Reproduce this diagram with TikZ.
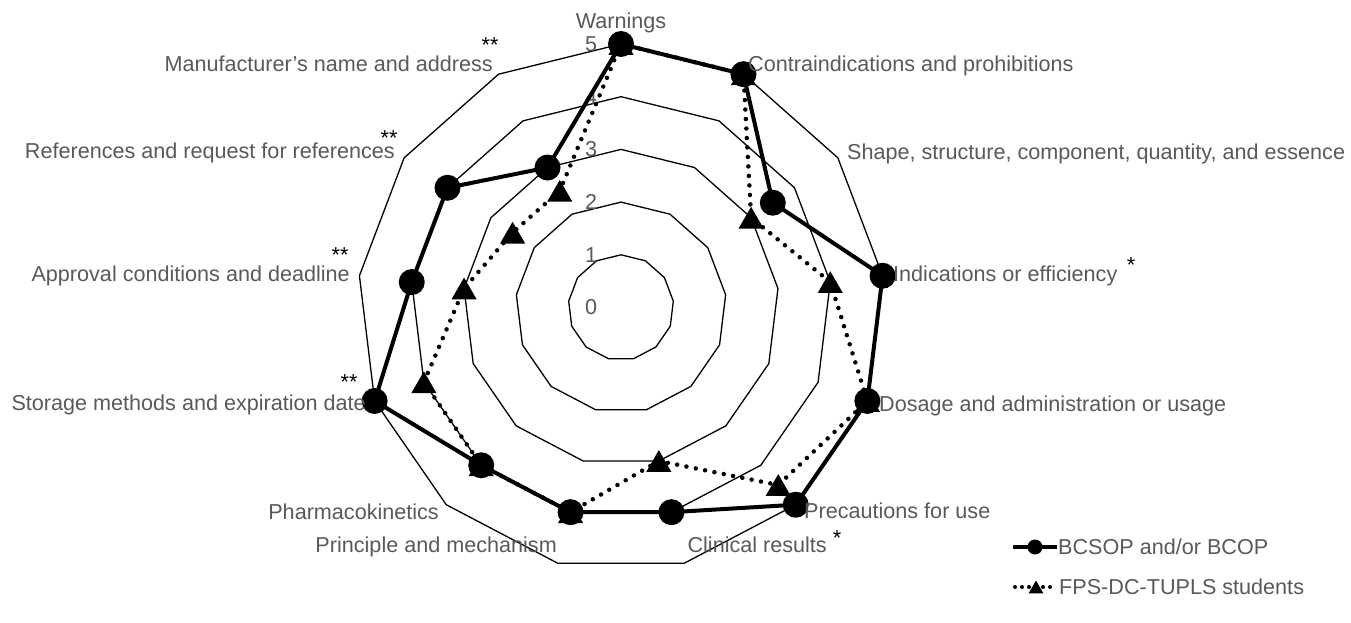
\documentclass[tikz,border=0pt]{standalone}
\usepackage{fontspec}
\setmainfont{Liberation Sans}
\usetikzlibrary{shapes.geometric}
\definecolor{labelgray}{RGB}{89,89,89}

\begin{document}
\begin{tikzpicture}[x=1pt,y=1pt,
  ring/.style={black,line width=1.3pt,line join=round},
  lbl/.style={text=labelgray,font=\fontsize{21.6}{24}\selectfont,inner sep=0pt},
  stars/.style={text=black,font=\fontsize{21.6}{24}\selectfont,inner sep=0pt,anchor=base},
  seriesA/.style={black,line width=4pt,line join=round},
  seriesB/.style={black,line width=4.5pt,line cap=round,dash pattern=on 0pt off 9.5pt},
  dotmark/.style={circle,fill=black,minimum size=26pt,inner sep=0pt},
  trimark/.style={regular polygon,regular polygon sides=3,fill=black,minimum size=29pt,inner sep=0pt,yshift=-3.6pt}]
\useasboundingbox (0,-623) rectangle (1351,0);

% rings 1..5
\begin{scope}[shift={(621,-307.5)}]
  \foreach \r in {1,...,5}
    \draw[ring] (90:\r*52.7) \foreach \k in {1,...,12} {-- ({90-\k*360/13}:\r*52.7)} -- cycle;
  \foreach \v [count=\k from 0] in {5,5,3.5,5,5,5,4,4,4,5,4,4,3}
    \coordinate (a\k) at ({90-\k*360/13}:\v*52.7);
  \foreach \v [count=\k from 0] in {5,5,3,4,5,4.5,3,4,4,4,3,2.5,2.5}
    \coordinate (b\k) at ({90-\k*360/13}:\v*52.7);
\end{scope}

% scale numbers
\foreach \n in {0,...,5}
  \node[lbl] (tick\n) at (591,{-307.5+\n*52.7}) {\n};

% FPS-DC-TUPLS students
\draw[seriesB] (b0) \foreach \k in {1,...,12} {-- (b\k)} -- cycle;
\foreach \k in {0,...,12}
  \node[trimark] (tb\k) at (b\k) {};

% BCSOP and/or BCOP
\draw[seriesA] (a0) \foreach \k in {1,...,12} {-- (a\k)} -- cycle;
\foreach \k in {0,...,12}
  \node[dotmark] (da\k) at (a\k) {};

% category labels
\node[lbl,anchor=base] (warn) at (621,-28.3) {Warnings};
\node[lbl,anchor=base west] (contra) at (748,-72) {Contraindications and prohibitions};
\node[lbl,anchor=base west] (shape) at (847,-159) {Shape, structure, component, quantity, and essence};
\node[lbl,anchor=base west] (indic) at (893,-281) {Indications or efficiency};
\node[lbl,anchor=base west] (dosage) at (879,-411) {Dosage and administration or usage};
\node[lbl,anchor=base west] (precau) at (804,-518) {Precautions for use};
\node[lbl,anchor=base east] (clinic) at (827,-552) {Clinical results};
\node[lbl,anchor=base east] (princ) at (557,-552) {Principle and mechanism};
\node[lbl,anchor=base east] (pharma) at (439,-519) {Pharmacokinetics};
\node[lbl,anchor=base east] (storage) at (366,-410) {Storage methods and expiration date};
\node[lbl,anchor=base east] (approv) at (350,-281) {Approval conditions and deadline};
\node[lbl,anchor=base east] (refs) at (395,-158) {References and request for references};
\node[lbl,anchor=base east] (manuf) at (493,-72) {Manufacturer’s name and address};

% significance marks
\node[stars] (s1) at (1131,-272) {*};
\node[stars] (s2) at (837,-545) {*};
\node[stars] (s3) at (349,-389) {**};
\node[stars] (s4) at (340,-262) {**};
\node[stars] (s5) at (389,-146) {**};
\node[stars] (s6) at (490,-53) {**};

% legend
\coordinate (la) at (1013,-547);
\coordinate (lb) at (1057,-547);
\draw[black,line width=4pt] (la) -- (lb);
\node[circle,fill=black,minimum size=15pt,inner sep=0pt] (lm) at (1035,-547) {};
\node[lbl,anchor=base west] (leg1) at (1058,-554.5) {BCSOP and/or BCOP};
\coordinate (lc) at (1015,-587);
\coordinate (ld) at (1057,-587);
\draw[black,line width=4pt,line cap=round,dash pattern=on 0pt off 7pt] (lc) -- (ld);
\node[regular polygon,regular polygon sides=3,fill=black,minimum size=17pt,inner sep=0pt,yshift=-2pt] (lt) at (1036,-587) {};
\node[lbl,anchor=base west] (leg2) at (1059,-594.5) {FPS-DC-TUPLS students};
\end{tikzpicture}
\end{document}
